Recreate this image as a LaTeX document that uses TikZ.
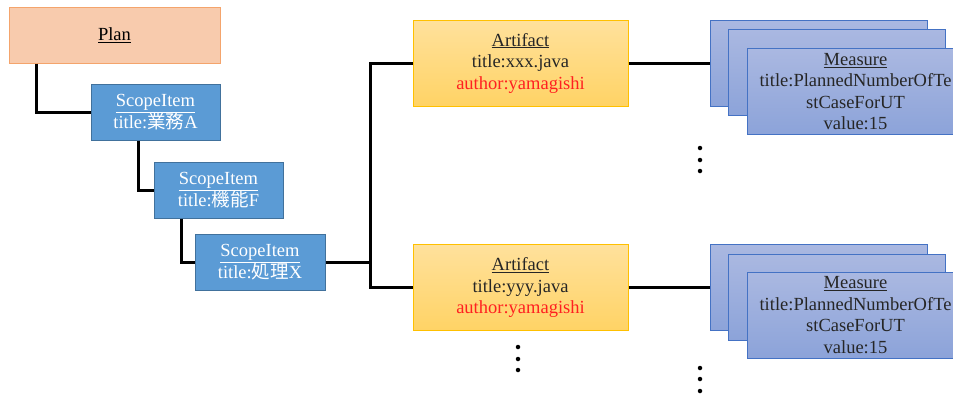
\documentclass[tikz,border=0pt]{standalone}
\usepackage{fontspec}
\setmainfont{Liberation Serif}
\newfontfamily\jpfont{Noto Sans CJK JP}
\usetikzlibrary{positioning}

\definecolor{planfill}{HTML}{F8CBAD}
\definecolor{planline}{HTML}{F4A46C}
\definecolor{scopefill}{HTML}{5B9BD5}
\definecolor{scopeline}{HTML}{41719C}
\definecolor{artitop}{HTML}{FFE19C}
\definecolor{artibot}{HTML}{FFD365}
\definecolor{artiline}{HTML}{FFC000}
\definecolor{meastop}{HTML}{AAB8E1}
\definecolor{measbot}{HTML}{8CA3D9}
\definecolor{measline}{HTML}{4472C4}
\definecolor{authorred}{HTML}{FF2020}

\begin{document}
\begin{tikzpicture}[x=1pt,y=-1pt,
  every node/.style={font=\fontsize{18.5}{21.5}\selectfont, align=center, inner sep=0pt},
  planbox/.style={draw=planline, fill=planfill, line width=1pt, minimum width=211pt, minimum height=56pt},
  scopebox/.style={draw=scopeline, fill=scopefill, line width=1pt, text=white, minimum width=129pt, minimum height=56pt},
  artibox/.style={draw=artiline, top color=artitop, bottom color=artibot, line width=1pt, text=black!85, minimum width=215pt, minimum height=86pt},
  measbox/.style={draw=measline, top color=meastop, bottom color=measbot, line width=1pt, text=black!85, minimum width=217pt, minimum height=86pt},
  link/.style={line width=3pt},
  moredot/.style={circle, fill=black, minimum size=4.5pt}]
\clip (0,0) rectangle (953,394);
\fill[white] (0,0) rectangle (953,394);

% plan and scope items
\node[planbox] (plan) at (114.5,35) {\underline{Plan}};
\node[scopebox] (scopeA) at (155.5,112) {\underline{ScopeItem}\\title:{\jpfont 業務}A};
\node[scopebox] (scopeF) at (218.5,190) {\underline{ScopeItem}\\title:{\jpfont 機能}F};
\node[scopebox, minimum width=130pt] (scopeX) at (260,262) {\underline{ScopeItem}\\title:{\jpfont 処理}X};

% artifacts
\node[artibox] (artiX) at (520.5,63) {\underline{Artifact}\\title:xxx.java\\\textcolor{authorred}{author:yamagishi}};
\node[artibox] (artiY) at (520.5,287.5) {\underline{Artifact}\\title:yyy.java\\\textcolor{authorred}{author:yamagishi}};

% measure stacks
\node[measbox] (measXa) at (818.5,63) {};
\node[measbox] (measXb) at (836.5,72.5) {};
\node[measbox] (measXc) at (855.5,91.5) {\underline{Measure}\\title:PlannedNumberOfTe\\stCaseForUT\\value:15};
\node[measbox] (measYa) at (818.5,287.5) {};
\node[measbox] (measYb) at (836.5,297) {};
\node[measbox] (measYc) at (855.5,315) {\underline{Measure}\\title:PlannedNumberOfTe\\stCaseForUT\\value:15};

% connectors
\coordinate (fork) at (370,262);
\draw[link] ([xshift=28pt]plan.south west) |- (scopeA.west);
\draw[link] ([xshift=48pt]scopeA.south west) |- (scopeF.west);
\draw[link] ([xshift=28pt]scopeF.south west) |- (scopeX.west);
\draw[link] (scopeX.east) -- (fork) |- (artiX.west);
\draw[link] (fork) |- (artiY.west);
\draw[link] (artiX.east) -- (measXa.west);
\draw[link] (artiY.east) -- (measYa.west);

% more items
\foreach \y in {148,160,171} \node[moredot] at (700,\y) {};
\foreach \y in {368,379,391} \node[moredot] at (700,\y) {};
\foreach \y in {347,359,370} \node[moredot] at (518,\y) {};
\end{tikzpicture}
\end{document}
